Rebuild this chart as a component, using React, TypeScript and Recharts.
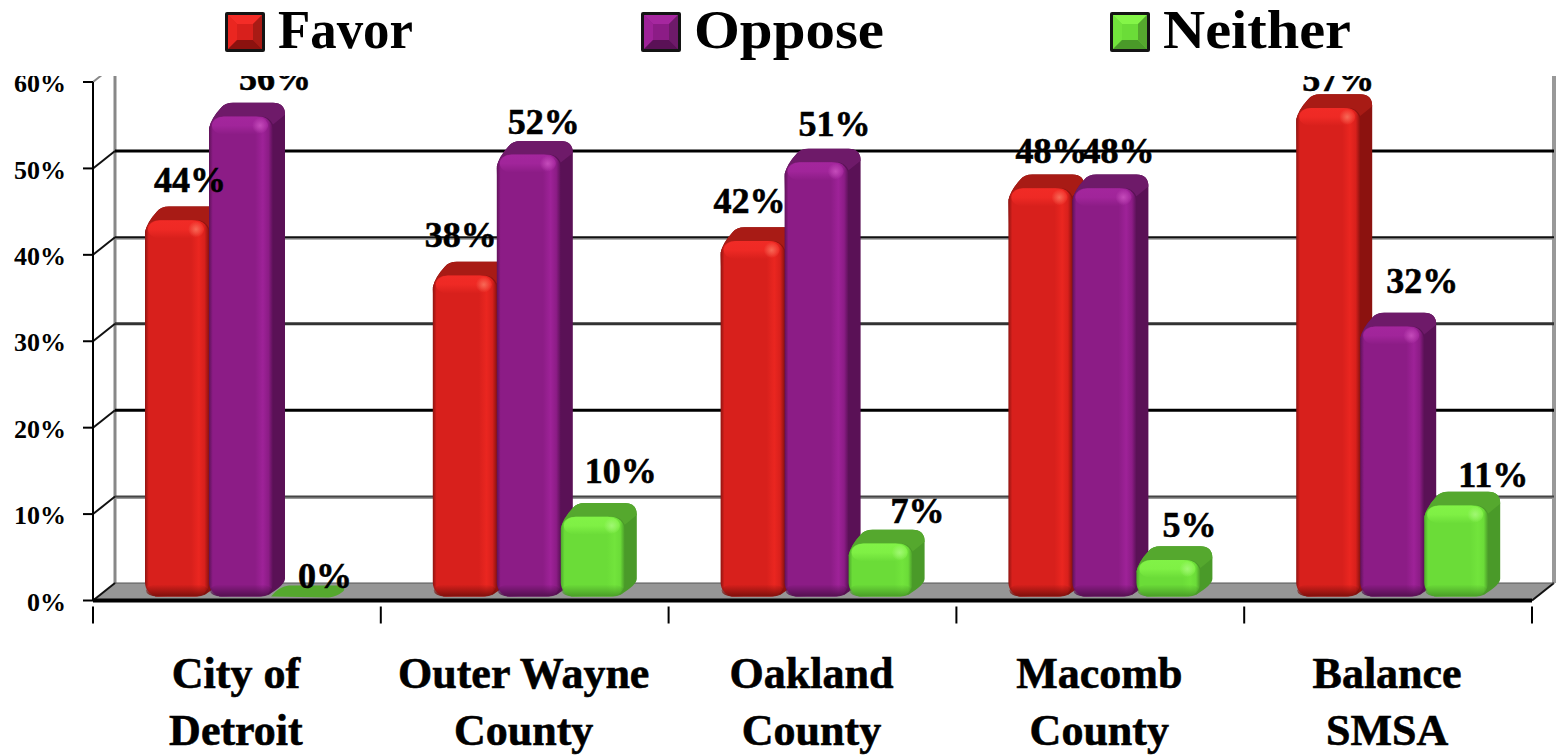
import React from 'react';
import { BarChart, Bar, XAxis, YAxis, CartesianGrid, Legend, LabelList } from 'recharts';

const categories = ['City of|Detroit', 'Outer Wayne|County', 'Oakland|County', 'Macomb|County', 'Balance|SMSA'];
const favor = [44, 37.6, 41.6, 47.7, 57];
const oppose = [56, 51.6, 50.7, 47.7, 31.7];
const neither = [0, 9.7, 6.6, 4.7, 11];
const yTicks = [0, 10, 20, 30, 40, 50, 60];
const seriesNames = ['Favor', 'Oppose', 'Neither'];

const data = categories.map((name, i) => ({ name, Favor: favor[i], Oppose: oppose[i], Neither: neither[i] }));

const SERIF = '"Liberation Serif", serif';
const CHART_W = 1558;
const CHART_H = 755;
const BAR_W = 64;
const SHIFT = 4;
const DEPTH_X = 12;
const DEPTH_Y = 13.7;
const WALL_X = 22;
const WALL_Y = 17.5;

const PALETTE: Record<string, any> = {
  Favor: { edge: '#8f1411', base: '#d8201c', band: '#ea2620', light: '#f42c27', cap: '#a81b15', side: '#8c120f', spot: '#f8705c', low: '#7f100c' },
  Oppose: { edge: '#5f1259', base: '#8c1c86', band: '#9e2298', light: '#a6279f', cap: '#6e1a69', side: '#5a1156', spot: '#c850be', low: '#541050' },
  Neither: { edge: '#4da92c', base: '#6bdc38', band: '#72e43c', light: '#84f548', cap: '#55a82e', side: '#4a9a29', spot: '#a4f878', low: '#4a9e28' },
};

const GRID_STYLE: Record<number, { color: string; shadow: boolean }> = {
  10: { color: '#444', shadow: true },
  20: { color: '#000', shadow: false },
  30: { color: '#333', shadow: false },
  40: { color: '#111', shadow: true },
  50: { color: '#000', shadow: false },
  60: { color: '#000', shadow: false },
};

const LABEL_PLACE: Record<string, number[][]> = {
  Favor: [[13, -28], [-4, -29], [-3, -28], [11, -25], [10, -17]],
  Oppose: [[34, -27], [15, -21], [18, -26], [14, -25], [30, -34]],
  Neither: [[20, -13], [28, -34], [37, -20], [21, -23], [37, -18]],
};

const Gradients = () => (
  <defs>
    {seriesNames.map((k) => {
      const c = PALETTE[k];
      return (
        <React.Fragment key={k}>
          <linearGradient id={`front-${k}`} x1="0" y1="0" x2="1" y2="0">
            <stop offset="0" stopColor={c.edge} />
            <stop offset="0.06" stopColor={c.base} />
            <stop offset="0.72" stopColor={c.base} />
            <stop offset="0.84" stopColor={c.band} />
            <stop offset="0.93" stopColor={c.base} />
            <stop offset="1" stopColor={c.side} />
          </linearGradient>
          <linearGradient id={`top-${k}`} x1="0" y1="0" x2="0" y2="1">
            <stop offset="0" stopColor={c.light} stopOpacity="0.9" />
            <stop offset="0.5" stopColor={c.light} stopOpacity="0.8" />
            <stop offset="1" stopColor={c.light} stopOpacity="0" />
          </linearGradient>
          <linearGradient id={`low-${k}`} x1="0" y1="0" x2="0" y2="1">
            <stop offset="0" stopColor={c.low} stopOpacity="0" />
            <stop offset="1" stopColor={c.low} stopOpacity="1" />
          </linearGradient>
          <radialGradient id={`spot-${k}`}>
            <stop offset="0" stopColor={c.spot} stopOpacity="0.9" />
            <stop offset="1" stopColor={c.spot} stopOpacity="0" />
          </radialGradient>
        </React.Fragment>
      );
    })}
  </defs>
);

const Bar3D = (props: any) => {
  const { x, y, width, height, dataKey } = props;
  const key = String(dataKey);
  const c = PALETTE[key];
  const left = x + SHIFT;
  const right = left + width;
  const base = y + height - 4;
  if (height < 1) {
    return (
      <path
        d={`M${left - 2} ${base} Q${left + 6} ${base - 10} ${left + 16} ${base - 11} L${left + 66} ${base - 11} Q${left + 74} ${base - 8} ${left + 70} ${base - 5} Q${left + 64} ${base} ${left + 56} ${base + 1} Z`}
        fill={c.cap}
      />
    );
  }
  const capTop = y - DEPTH_Y;
  const outer = `M${left} ${y + 12} Q${left + 2} ${y + 2} ${left + 12} ${capTop + 5} Q${left + 16} ${capTop} ${left + 24} ${capTop}
            L${right + DEPTH_X - 12} ${capTop} Q${right + DEPTH_X} ${capTop} ${right + DEPTH_X} ${capTop + 12}`;
  return (
    <g>
      <path
        d={`${outer} L${right + DEPTH_X} ${base - DEPTH_Y - 4} Q${right + DEPTH_X} ${base - DEPTH_Y + 2} ${right - 4} ${base - 2} L${left + 10} ${base} Z`}
        fill={c.side}
      />
      <path d={`${outer} L${right} ${y + 8} Q${right - 4} ${y} ${right - 12} ${y} L${left + 12} ${y} Z`} fill={c.cap} />
      <rect x={left} y={y} width={width} height={base - y} rx={14} ry={14} fill={`url(#front-${key})`} />
      <rect x={left + 3} y={y} width={width - 8} height={18} rx={12} ry={12} fill={`url(#top-${key})`} />
      <ellipse cx={left + width - 13} cy={y + 9} rx={8} ry={8} fill={`url(#spot-${key})`} />
      <rect x={left + 1} y={base - 12} width={width - 2} height={12} rx={11} ry={11} fill={`url(#low-${key})`} />
    </g>
  );
};

const noBar = () => null;

const makeLabel = (key: string) => (props: any) => {
  const box = props.viewBox ?? props;
  const { x, y, width } = box;
  const { value, index } = props;
  const place = LABEL_PLACE[key][index];
  return (
    <text
      x={x + width / 2 + SHIFT + place[0]}
      y={y + place[1]}
      textAnchor="middle"
      fontFamily={SERIF}
      fontWeight="bold"
      fontSize={36}
      fill="#000"
      stroke="#000"
      strokeWidth={0.6}
    >
      {`${Math.round(Number(value))}%`}
    </text>
  );
};

const GridRow = (props: any) => {
  const { x1, x2, y1, x, y, width, height } = props;
  const left = x1 ?? x;
  const right = x2 ?? x + width;
  const level = Math.round((((y + height - y1) / height) * 60) / 10) * 10;
  const backLeft = left + WALL_X;
  const backRight = right + WALL_X;
  const backY = y1 - WALL_Y;
  const style = GRID_STYLE[level];
  return (
    <g>
      {level === 0 ? (
        <g>
          <polygon points={`${left},${y1} ${backLeft},${backY} ${backRight},${backY} ${right},${y1}`} fill="#969696" />
          <line x1={backLeft} y1={y - WALL_Y + 10} x2={backLeft} y2={backY} stroke="#888" strokeWidth={3} />
          <line x1={backRight} y1={y - WALL_Y + 10} x2={backRight} y2={backY} stroke="#999" strokeWidth={4} />
          <line x1={right} y1={y1} x2={backRight} y2={backY} stroke="#111" strokeWidth={2} />
          <line x1={backLeft} y1={backY} x2={backRight} y2={backY} stroke="#555" strokeWidth={1} />
        </g>
      ) : (
        <g>
          {style.shadow && <line x1={backLeft} y1={backY + 1.5} x2={backRight} y2={backY + 1.5} stroke="#999" strokeWidth={2} />}
          <line x1={backLeft} y1={backY} x2={backRight} y2={backY} stroke={style.color} strokeWidth={style.shadow ? 2 : 3} />
        </g>
      )}
      <line x1={left} y1={y1} x2={backLeft} y2={backY} stroke={level === 60 ? '#888' : '#111'} strokeWidth={2} />
    </g>
  );
};

const CategoryTick = (props: any) => {
  const { x, y, payload, index, width } = props;
  const band = width / categories.length;
  const [a, b] = String(payload.value).split('|');
  const cx = payload.coordinate ?? x;
  const labelStyle = { fontFamily: SERIF, fontWeight: 'bold', fontSize: 44, fill: '#000', stroke: '#000', strokeWidth: 0.6 } as const;
  return (
    <g>
      <line x1={cx - band / 2} y1={y - 2} x2={cx - band / 2} y2={y + 15} stroke="#000" strokeWidth={2} />
      {index === categories.length - 1 && (
        <line x1={cx + band / 2} y1={y - 2} x2={cx + band / 2} y2={y + 15} stroke="#000" strokeWidth={2} />
      )}
      <text x={cx - 1} y={688} textAnchor="middle" {...labelStyle}>{a}</text>
      <text x={cx - 1} y={745} textAnchor="middle" {...labelStyle}>{b}</text>
    </g>
  );
};

const LEGEND_X = [225, 641, 1110];
const LEGEND_TEXT_W = [135, 190, 188];

const Swatch = ({ x, k }: { x: number; k: string }) => {
  const c = PALETTE[k];
  const s = 40;
  const y = 12;
  const b = 3;
  const i = 9;
  const L = x + b, R = x + s - b, T = y + b, B = y + s - b;
  return (
    <g>
      <rect x={x} y={y} width={s} height={s} rx={2} fill="#141414" />
      <rect x={L} y={T} width={s - 2 * b} height={s - 2 * b} fill={c.base} />
      <polygon points={`${L},${T} ${R},${T} ${R - i},${T + i} ${L + i},${T + i}`} fill={c.light} />
      <polygon points={`${L},${T} ${L + i},${T + i} ${L + i},${B - i} ${L},${B}`} fill={c.band} />
      <polygon points={`${R},${T} ${R - i},${T + i} ${R - i},${B - i} ${R},${B}`} fill={c.cap} />
      <polygon points={`${L},${B} ${L + i},${B - i} ${R - i},${B - i} ${R},${B}`} fill={c.side} />
    </g>
  );
};

const LegendContent = () => (
  <svg width={CHART_W} height={76} style={{ display: 'block' }}>
    {seriesNames.map((k, i) => (
      <g key={k}>
        <Swatch x={LEGEND_X[i]} k={k} />
        <text
          x={LEGEND_X[i] + 53}
          y={48}
          fontFamily={SERIF}
          fontWeight="bold"
          fontSize={54}
          textLength={LEGEND_TEXT_W[i]}
          lengthAdjust="spacingAndGlyphs"
          fill="#000"
        >
          {k}
        </text>
      </g>
    ))}
  </svg>
);

export default function App() {
  return (
    <div style={{ position: 'absolute', left: 0, top: 0, width: CHART_W, height: CHART_H, background: '#fff' }}>
      <BarChart
        width={CHART_W}
        height={CHART_H}
        data={data}
        barSize={BAR_W}
        barGap={0}
        margin={{ top: 82, right: 26, bottom: 0, left: 0 }}
      >
        <Gradients />
        <CartesianGrid horizontal={(p: any) => <GridRow key={p.key} {...p} />} vertical={false} />
        <XAxis
          dataKey="name"
          height={154.5}
          axisLine={{ stroke: '#000', strokeWidth: 4 }}
          tickLine={false}
          interval={0}
          tick={<CategoryTick />}
        />
        <XAxis xAxisId="labels" dataKey="name" hide />
        <YAxis
          domain={[0, 60]}
          ticks={yTicks}
          width={93}
          interval={0}
          axisLine={{ stroke: '#000', strokeWidth: 2 }}
          tickLine={{ stroke: '#000', strokeWidth: 2 }}
          tickSize={10}
          tickMargin={17}
          tickFormatter={(v: number) => `${v}%`}
          tick={{ fontFamily: SERIF, fontWeight: 'bold', fontSize: 26, fill: '#000', dy: 1 }}
        />
        {seriesNames.map((k) => (
          <Bar key={k} dataKey={k} shape={<Bar3D dataKey={k} />} isAnimationActive={false} />
        ))}
        {seriesNames.map((k) => (
          <Bar key={`label-${k}`} xAxisId="labels" dataKey={k} shape={noBar} isAnimationActive={false} legendType="none">
            <LabelList dataKey={k} content={makeLabel(k)} />
          </Bar>
        ))}
        <Legend
          layout="vertical"
          align="center"
          verticalAlign="middle"
          content={<LegendContent />}
          wrapperStyle={{ top: 0, left: 0, width: CHART_W, height: 76, background: '#fff' }}
        />
      </BarChart>
    </div>
  );
}
